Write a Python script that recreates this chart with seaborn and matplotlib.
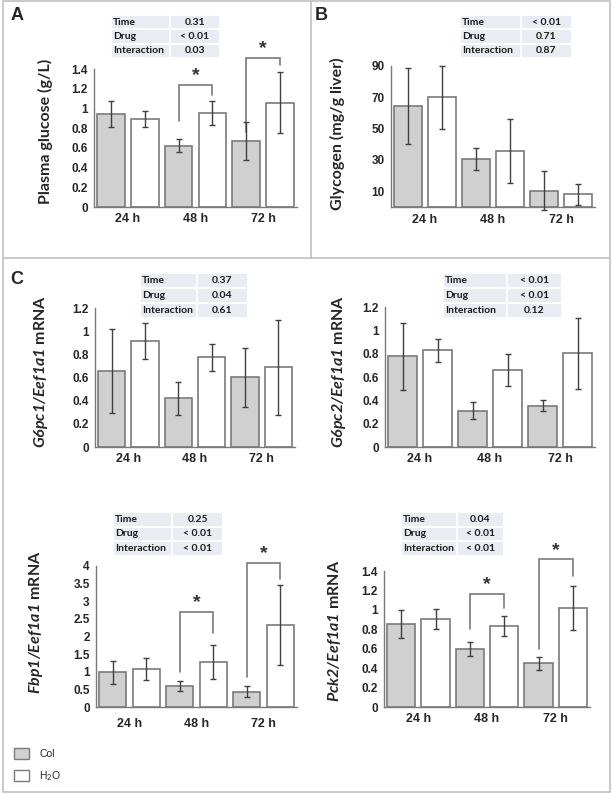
import numpy as np
import pandas as pd
import matplotlib
matplotlib.use("Agg")
import matplotlib.pyplot as plt
from matplotlib.patches import Rectangle, Patch
from matplotlib.lines import Line2D
import seaborn as sns

times = ["24 h", "48 h", "72 h"]
groups = ["Col", "H2O"]

# means and SD
glucose_col = [0.945, 0.62, 0.67]
glucose_col_sd = [0.135, 0.065, 0.19]
glucose_h2o = [0.895, 0.955, 1.06]
glucose_h2o_sd = [0.08, 0.12, 0.305]

glycogen_col = [64.5, 30.6, 10.5]
glycogen_col_sd = [24.0, 6.8, 12.7]
glycogen_h2o = [70.0, 36.0, 8.0]
glycogen_h2o_sd = [20.0, 20.4, 6.9]

g6pc1_col = [0.656, 0.419, 0.601]
g6pc1_col_sd = [0.366, 0.146, 0.256]
g6pc1_h2o = [0.917, 0.775, 0.688]
g6pc1_h2o_sd = [0.153, 0.118, 0.41]

g6pc2_col = [0.777, 0.311, 0.354]
g6pc2_col_sd = [0.286, 0.072, 0.046]
g6pc2_h2o = [0.829, 0.66, 0.803]
g6pc2_h2o_sd = [0.1, 0.137, 0.303]

fbp1_col = [0.98, 0.585, 0.434]
fbp1_col_sd = [0.33, 0.145, 0.155]
fbp1_h2o = [1.075, 1.283, 2.32]
fbp1_h2o_sd = [0.31, 0.49, 1.13]

pck2_col = [0.852, 0.6, 0.448]
pck2_col_sd = [0.142, 0.072, 0.066]
pck2_h2o = [0.91, 0.831, 1.02]
pck2_h2o_sd = [0.103, 0.103, 0.23]

# two-way ANOVA p-values
anova_terms = ["Time", "Drug", "Interaction"]
p_glucose = ["0.31", "< 0.01", "0.03"]
p_glycogen = ["< 0.01", "0.71", "0.87"]
p_g6pc1 = ["0.37", "0.04", "0.61"]
p_g6pc2 = ["< 0.01", "< 0.01", "0.12"]
p_fbp1 = ["0.25", "< 0.01", "< 0.01"]
p_pck2 = ["0.04", "< 0.01", "< 0.01"]

# significance brackets: (time index, col end, top, h2o end)
sig_glucose = [(1, 0.877, 1.24, 1.138), (2, 0.765, 1.512, 1.444)]
sig_fbp1 = [(1, 0.98, 2.69, 2.09), (2, 0.85, 4.08, 3.62)]
sig_pck2 = [(1, 0.80, 1.164, 1.022), (2, 0.593, 1.52, 1.35)]

yt_glucose = [0, 0.2, 0.4, 0.6, 0.8, 1, 1.2, 1.4]
yt_glycogen = [10, 30, 50, 70, 90]
yt_g6pc = [0, 0.2, 0.4, 0.6, 0.8, 1, 1.2]
yt_fbp1 = [0, 0.5, 1, 1.5, 2, 2.5, 3, 3.5, 4]

sns.set_style("white")
plt.rcParams["font.family"] = ["Liberation Sans", "DejaVu Sans"]
plt.rcParams["mathtext.fontset"] = "custom"
plt.rcParams["mathtext.rm"] = "Lato"
plt.rcParams["mathtext.bf"] = "Lato:bold"
plt.rcParams["mathtext.it"] = "Lato:italic"
plt.rcParams["mathtext.bfit"] = "Lato:italic:bold"

W, H = 612, 793
COL_FILL = "#d0d0d0"
EDGE = "#7a7a7a"
ERR = "#404040"
TABLE_BG = "#e9ecf2"
BORDER = "#c0c0c0"

fig = plt.figure(figsize=(W / 100, H / 100), dpi=100)


def fx(x):
    return x / W


def fy(y):
    return 1 - y / H


def add_ax(l, r, t, b):
    return fig.add_axes([fx(l), fy(b), (r - l) / W, (b - t) / H])


def panel(ax, col, col_sd, h2o, h2o_sd, yticks, ylabel, lab_x, lab_y, xpad=4):
    df = pd.DataFrame({"time": times * 2,
                       "group": ["Col"] * 3 + ["H2O"] * 3,
                       "value": col + h2o})
    sns.barplot(data=df, x="time", y="value", hue="group", hue_order=groups,
                palette={"Col": COL_FILL, "H2O": "white"}, edgecolor=EDGE,
                linewidth=1.2, width=1.0, gap=0.18, errorbar=None,
                legend=False, ax=ax)
    for cont, sd in zip(ax.containers, [col_sd, h2o_sd]):
        xs = [b.get_x() + b.get_width() / 2 for b in cont]
        hs = [b.get_height() for b in cont]
        ax.errorbar(xs, hs, yerr=sd, fmt="none", ecolor=ERR, elinewidth=1.0,
                    capsize=2.3, capthick=1.0, clip_on=False, zorder=5)
    ax.set_xlim(-0.5, 2.5)
    ax.set_ylim(0, yticks[-1])
    ax.set_yticks(yticks)
    ax.set_yticklabels([f"{v:g}" for v in yticks])
    ax.set_xlabel("")
    ax.set_ylabel(ylabel, fontsize=11.5, fontweight="bold", family="Lato")
    bb = ax.get_position()
    ax.yaxis.set_label_coords((lab_x / W - bb.x0) / bb.width,
                              (fy(lab_y) - bb.y0) / bb.height)
    sns.despine(ax=ax)
    for s in ["left", "bottom"]:
        ax.spines[s].set_color(EDGE)
        ax.spines[s].set_linewidth(1.0)
    ax.tick_params(axis="y", direction="out", length=2.5, width=0.8,
                   color=EDGE, pad=2, labelsize=8.5)
    ax.tick_params(axis="x", length=0, pad=xpad, labelsize=9)
    for t in ax.get_xticklabels() + ax.get_yticklabels():
        t.set_fontweight("bold")
    ax.set_facecolor("none")


def brackets(ax, sigs):
    cont_c, cont_h = ax.containers[0], ax.containers[1]
    for i, y0, ytop, y1 in sigs:
        bc, bh = cont_c[i], cont_h[i]
        xl = bc.get_x() + bc.get_width() / 2
        xr = bh.get_x() + bh.get_width() / 2
        ax.plot([xl, xl, xr, xr], [y0, ytop, ytop, y1], color=EDGE, lw=1.2,
                clip_on=False, solid_joinstyle="miter")
        ax.annotate("*", xy=((xl + xr) / 2, ytop), xytext=(0, 0.5),
                    textcoords="offset points", ha="center", va="bottom",
                    fontsize=14, fontweight="bold", color="#333333",
                    annotation_clip=False)


def table(x0, xs, x1, y0, y1, values):
    rh = (y1 - y0) / 3
    for i, (term, val) in enumerate(zip(anova_terms, values)):
        top = y0 + i * rh
        for a, b in [(x0, xs), (xs, x1)]:
            fig.add_artist(Rectangle((fx(a), fy(top + rh)), (b - a) / W, rh / H,
                                     transform=fig.transFigure,
                                     facecolor=TABLE_BG, edgecolor="white",
                                     lw=1.3))
        fig.text(fx(x0 + 2), fy(top + rh / 2), term, ha="left", va="center",
                 fontsize=7.5, fontweight="bold", family="Lato", color="#1a1a1a")
        fig.text(fx((xs + x1) / 2), fy(top + rh / 2), val, ha="center",
                 va="center", fontsize=7.5, fontweight="bold", family="Lato",
                 color="#1a1a1a")


# panel borders
fig.add_artist(Rectangle((fx(3), fy(792)), 607 / W, 791 / H,
                         transform=fig.transFigure, facecolor="none",
                         edgecolor=BORDER, lw=1.2))
fig.add_artist(Line2D([fx(3), fx(610)], [fy(258), fy(258)],
                      transform=fig.transFigure, color=BORDER, lw=1.2))
fig.add_artist(Line2D([fx(311), fx(311)], [fy(1), fy(258)],
                      transform=fig.transFigure, color=BORDER, lw=1.2))

# A
axA = add_ax(94, 297, 69, 207)
panel(axA, glucose_col, glucose_col_sd, glucose_h2o, glucose_h2o_sd,
      yt_glucose, "Plasma glucose (g/L)", 53, 131)
brackets(axA, sig_glucose)
table(111, 170, 220, 15, 58, p_glucose)

# B
axB = add_ax(391, 595, 66, 207)
panel(axB, glycogen_col, glycogen_col_sd, glycogen_h2o, glycogen_h2o_sd,
      yt_glycogen, "Glycogen (mg/g liver)", 345, 134, xpad=5)
axB.set_ylim(0, 90)
table(460, 521, 572, 15, 58, p_glycogen)

# C
ax1 = add_ax(95, 295, 308, 447)
panel(ax1, g6pc1_col, g6pc1_col_sd, g6pc1_h2o, g6pc1_h2o_sd, yt_g6pc,
      r"$\mathbfit{G6pc1/Eef1a1}$ mRNA", 50, 371)
table(140, 197, 248, 273, 318, p_g6pc1)

ax2 = add_ax(385, 595, 307, 447)
panel(ax2, g6pc2_col, g6pc2_col_sd, g6pc2_h2o, g6pc2_h2o_sd, yt_g6pc,
      r"$\mathbfit{G6pc2/Eef1a1}$ mRNA", 348, 371)
table(443, 507, 562, 273, 318, p_g6pc2)

ax3 = add_ax(96, 297, 566, 707)
panel(ax3, fbp1_col, fbp1_col_sd, fbp1_h2o, fbp1_h2o_sd, yt_fbp1,
      r"$\mathbfit{Fbp1/Eef1a1}$ mRNA", 45, 622, xpad=8)
brackets(ax3, sig_fbp1)
table(113, 172, 223, 512, 556, p_fbp1)

ax4 = add_ax(384, 590, 571, 707)
panel(ax4, pck2_col, pck2_col_sd, pck2_h2o, pck2_h2o_sd, yt_glucose,
      r"$\mathbfit{Pck2/Eef1a1}$ mRNA", 343, 631)
brackets(ax4, sig_pck2)
table(401, 457, 504, 512, 556, p_pck2)

# panel letters
for txt, x, y in [("A", 17, 15), ("B", 321, 15), ("C", 17, 280)]:
    fig.text(fx(x), fy(y), txt, ha="center", va="center", fontsize=13,
             fontweight="bold")

handles = [Patch(facecolor=COL_FILL, edgecolor=EDGE, lw=1.0),
           Patch(facecolor="white", edgecolor=EDGE, lw=1.0)]
fig.legend(handles, ["Col", r"H$_2$O"], loc="upper left",
           bbox_to_anchor=(fx(10), fy(744)), frameon=False, fontsize=7.5,
           handlelength=1.45, handleheight=1.25, labelspacing=0.95,
           handletextpad=0.95, borderaxespad=0)

fig.savefig("out.png", dpi=100)
